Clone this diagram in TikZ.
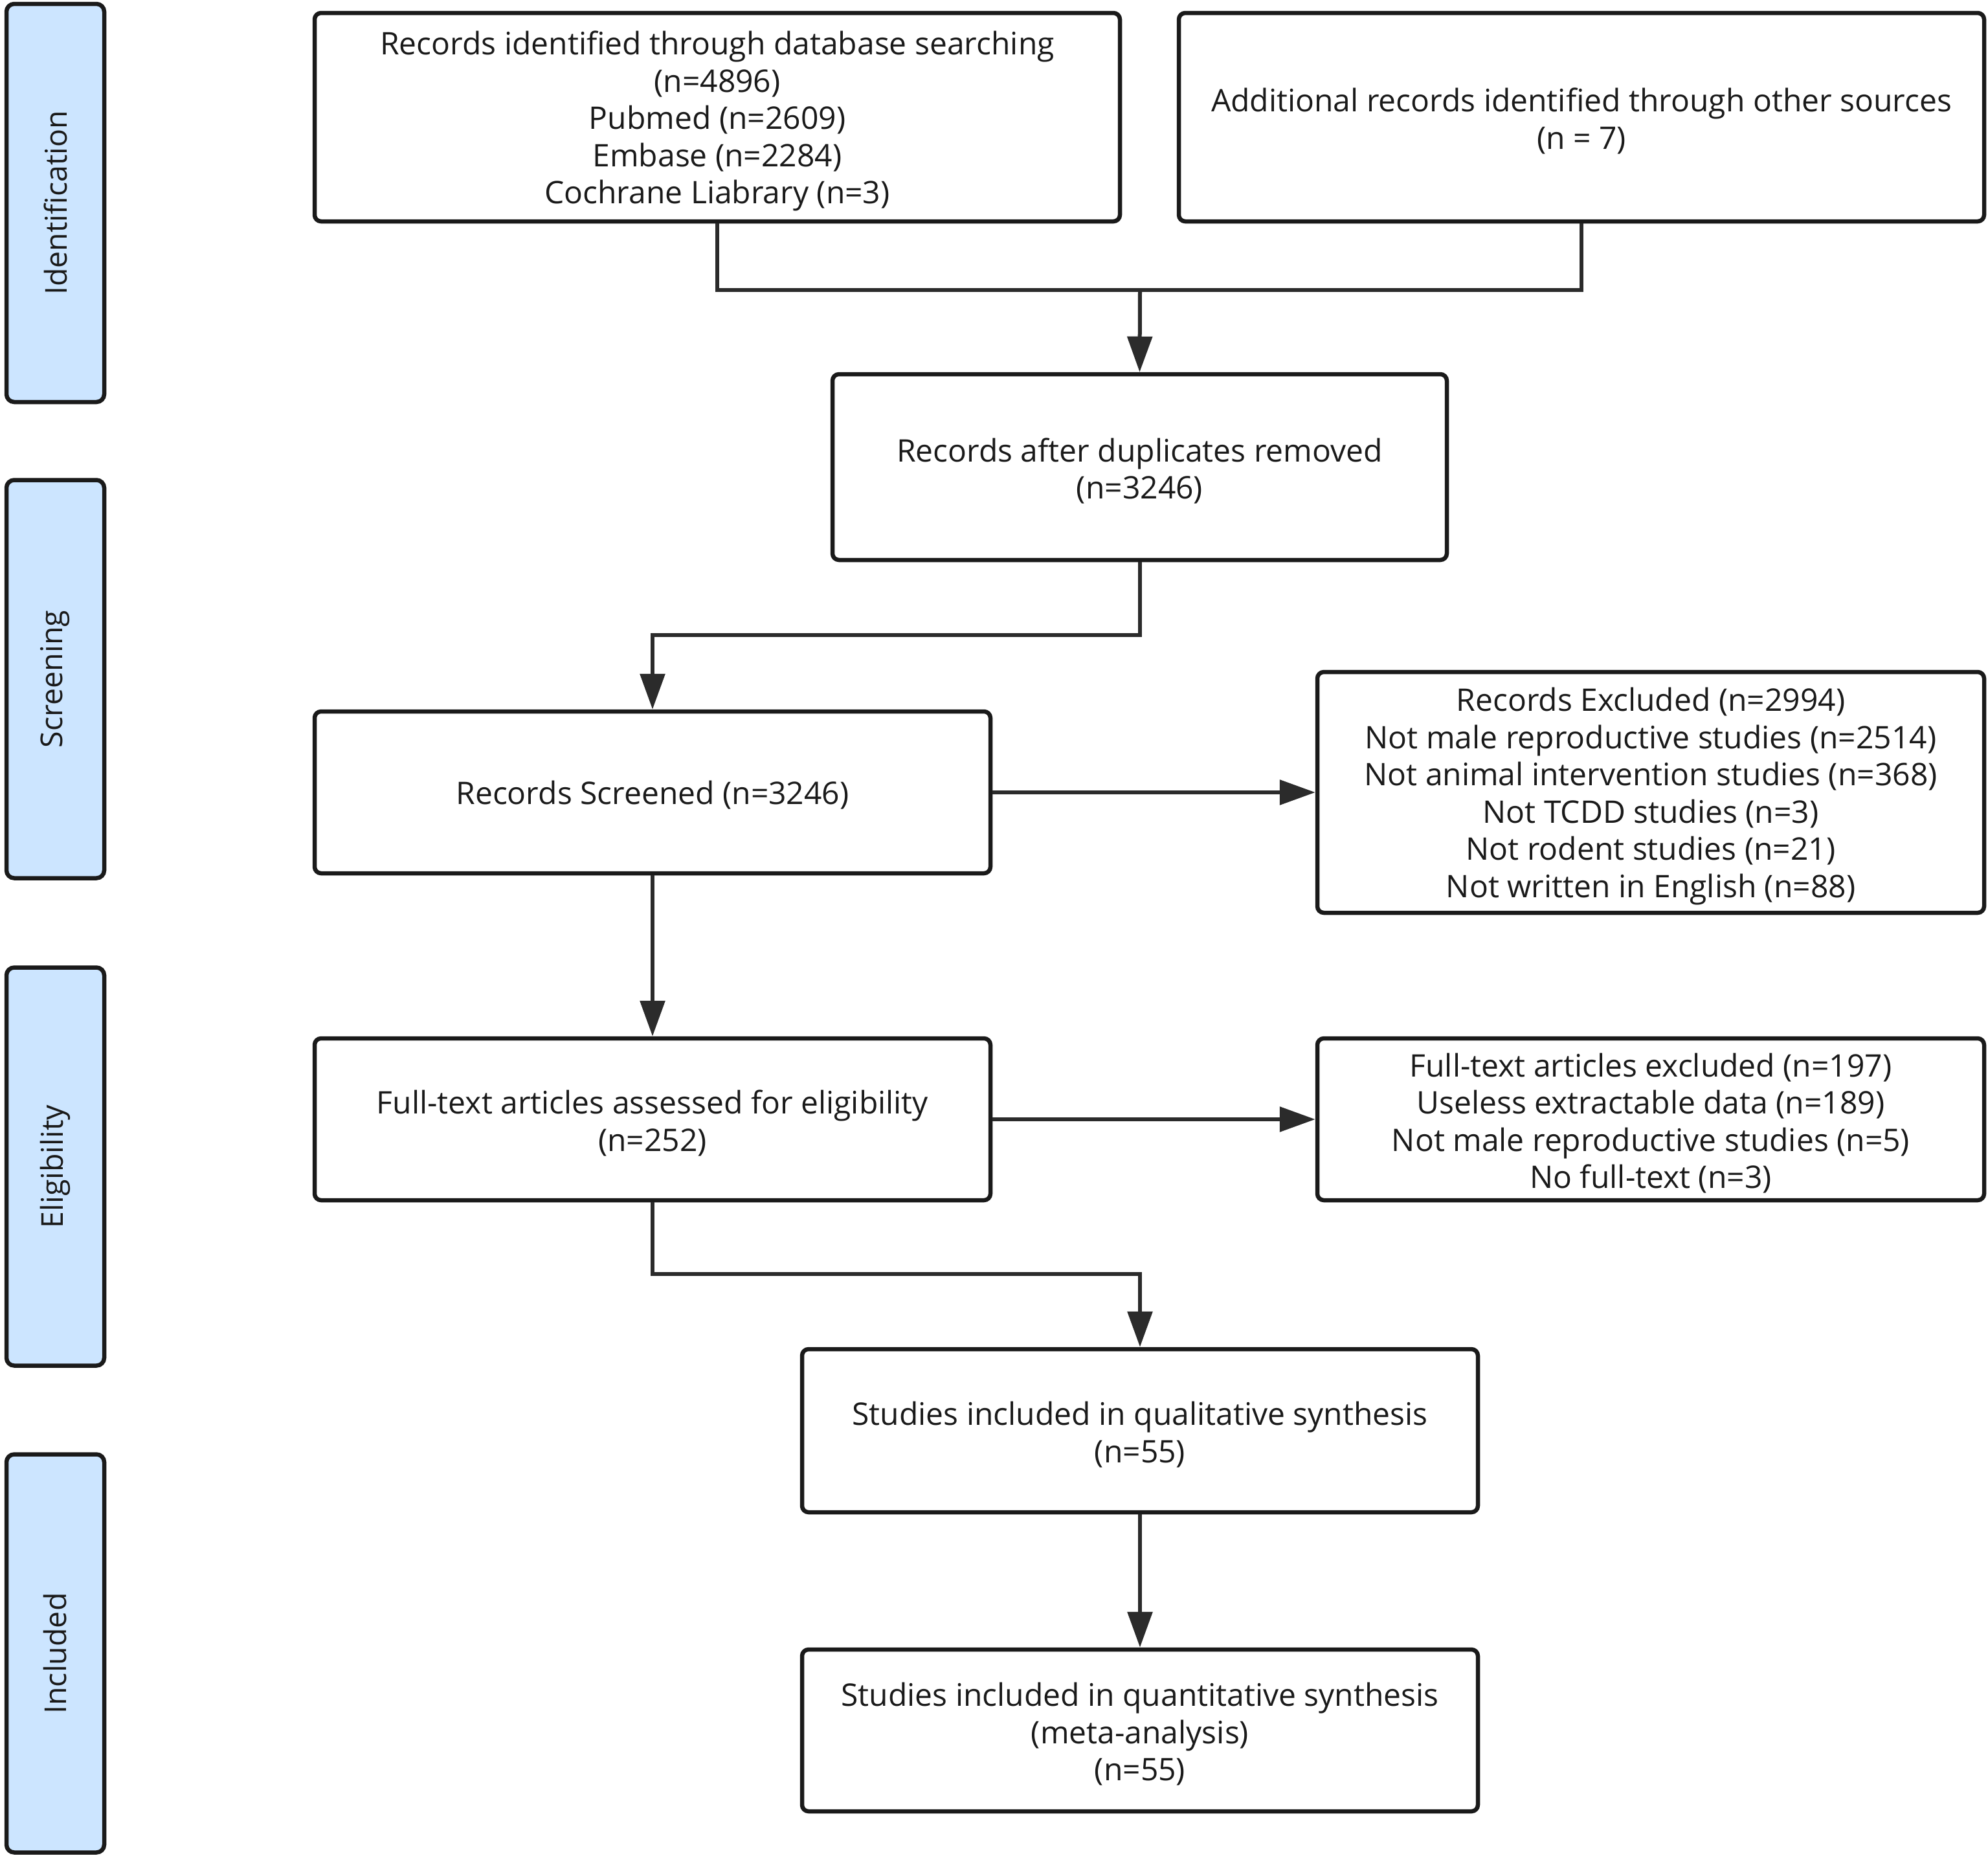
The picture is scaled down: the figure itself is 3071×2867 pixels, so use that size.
\documentclass[tikz,border=0pt]{standalone}
\usepackage{fontspec}
\setmainfont{Open Sans}
\usetikzlibrary{arrows.meta}
\definecolor{sideblue}{HTML}{CCE5FF}
\definecolor{ink}{HTML}{1A1A1A}
\definecolor{lineink}{HTML}{2B2B2B}
\begin{document}
\begin{tikzpicture}[x=1pt,y=-1pt,
  box/.style={draw=ink, line width=6.5pt, rounded corners=10pt, inner sep=0pt},
  txt/.style={align=center, inner sep=0pt, font=\fontsize{48}{57.5}\selectfont, text=ink},
  side/.style={draw=ink, line width=6.5pt, rounded corners=12pt, fill=sideblue,
    inner sep=0pt, minimum width=151pt, minimum height=615pt},
  sidelab/.style={rotate=90, font=\fontsize{46.5}{56}\selectfont, text=ink},
  conn/.style={line width=6pt, draw=lineink},
  arr/.style={conn, -{Triangle[length=55pt,width=38pt]}}]
\useasboundingbox (0,0) rectangle (3071,2867);

% side bars
\node[side] (s1) at (85.5,313.5) {};
\node[sidelab] (l1) at (s1.center) {Identification};
\node[side] (s2) at (85.5,1049) {};
\node[sidelab] (l2) at (s2.center) {Screening};
\node[side] (s3) at (85.5,1802) {};
\node[sidelab] (l3) at (s3.center) {Eligibility};
\node[side] (s4) at (85.5,2554) {};
\node[sidelab] (l4) at (s4.center) {Included};

% boxes
\node[box, minimum width=1244pt, minimum height=322pt] (b1) at (1108,181) {};
\node[box, minimum width=1244pt, minimum height=322pt] (b2) at (2443,181) {};
\node[box, minimum width=949pt, minimum height=287pt] (b3) at (1760.5,721.5) {};
\node[box, minimum width=1044pt, minimum height=250pt] (b4) at (1008,1224) {};
\node[box, minimum width=1030pt, minimum height=372pt] (b5) at (2550,1224) {};
\node[box, minimum width=1044pt, minimum height=250pt] (b6) at (1008,1729) {};
\node[box, minimum width=1030pt, minimum height=250pt] (b7) at (2550,1729) {};
\node[box, minimum width=1044pt, minimum height=252pt] (b8) at (1761,2210) {};
\node[box, minimum width=1044pt, minimum height=250pt] (b9) at (1761,2673) {};

% texts
\node[txt] (t1) at ([yshift=-6pt]b1.center)
  {Records identified through database searching\\(n=4896)\\Pubmed (n=2609)\\Embase (n=2284)\\Cochrane Liabrary (n=3)};
\node[txt] (t2) at ([yshift=-6pt]b2.center)
  {Additional records identified through other sources\\(n = 7)};
\node[txt] (t3) at ([yshift=-6pt]b3.center)
  {Records after duplicates removed\\(n=3246)};
\node[txt] (t4) at ([yshift=-4pt]b4.center)
  {Records Screened (n=3246)};
\node[txt] (t5) at ([yshift=-6pt]b5.center)
  {Records Excluded (n=2994)\\Not male reproductive studies (n=2514)\\Not animal intervention studies (n=368)\\Not TCDD studies (n=3)\\Not rodent studies (n=21)\\Not written in English (n=88)};
\node[txt] (t6) at ([yshift=-6pt]b6.center)
  {Full-text articles assessed for eligibility\\(n=252)};
\node[txt] (t7) at ([yshift=-6pt]b7.center)
  {Full-text articles excluded (n=197)\\Useless extractable data (n=189)\\Not male reproductive studies (n=5)\\No full-text (n=3)};
\node[txt] (t8) at ([yshift=-6pt]b8.center)
  {Studies included in qualitative synthesis\\(n=55)};
\node[txt] (t9) at ([yshift=-6pt]b9.center)
  {Studies included in quantitative synthesis\\(meta-analysis)\\(n=55)};

% connectors
\coordinate (j1) at (1761,448);
\coordinate (j2) at (1008,981);
\coordinate (j3) at (1761,1968);
\draw[conn] (b1.south) |- (j1) -| (b2.south);
\draw[arr] (j1) -- (b3.north);
\draw[arr] (b3.south) |- (j2) -- (b4.north);
\draw[arr] (b4.east) -- (b5.west);
\draw[arr] (b4.south) -- (b6.north);
\draw[arr] (b6.east) -- (b7.west);
\draw[arr] (b6.south) |- (j3) -- (b8.north);
\draw[arr] (b8.south) -- (b9.north);
\end{tikzpicture}
\end{document}
